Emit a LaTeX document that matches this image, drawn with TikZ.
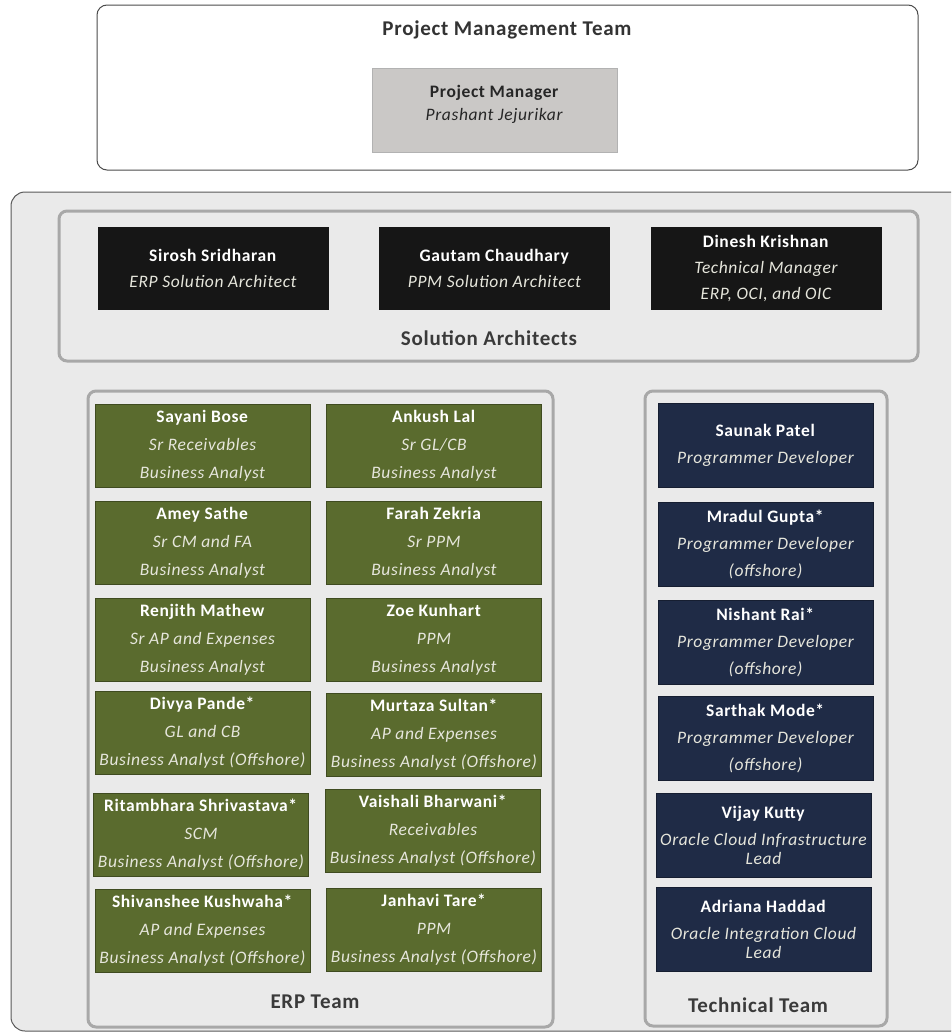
\documentclass[tikz,border=0pt]{standalone}
\usepackage{fontspec}
\setmainfont{Carlito}[LetterSpace=3.5]
\definecolor{olive}{HTML}{5A6B2E}
\definecolor{navy}{HTML}{1F2B46}
\definecolor{blk}{HTML}{161616}
\definecolor{pmgray}{HTML}{CAC8C6}
\definecolor{panel}{HTML}{EAEAEA}
\definecolor{rim}{HTML}{A8A8A8}
\definecolor{ttl}{HTML}{3A3A3A}
\definecolor{soft}{HTML}{E6E6DC}
\tikzset{
  pbox/.style={rectangle, inner sep=0pt, align=center, text=white},
  gbox/.style={pbox, fill=olive, draw=olive!70!black, line width=0.6pt, minimum width=215pt, minimum height=83pt, font=\fontsize{17.5}{28}\selectfont},
  tbox/.style={pbox, fill=navy, draw=navy!70!black, line width=0.6pt, minimum width=215pt, minimum height=84pt, font=\fontsize{17.5}{27}\selectfont},
  abox/.style={pbox, fill=blk, minimum width=231pt, minimum height=83pt, font=\fontsize{17.5}{26}\selectfont},
  grp/.style={draw=rim, line width=3pt, rounded corners=8pt, fill=panel},
  ttlstyle/.style={text=ttl, font=\fontsize{21}{23}\selectfont\bfseries, inner sep=0pt},
}
\newcommand{\nm}[1]{\textbf{#1}}
\newcommand{\rl}[1]{{\color{soft}\itshape #1}}
\begin{document}
\begin{tikzpicture}[x=1pt,y=-1pt]
\useasboundingbox (0,0) rectangle (951,1036);
\fill[white] (0,0) rectangle (951,1036);
\begin{scope}
\clip (0,0) rectangle (951,1036);
% top project management team
\draw[draw=black!70, line width=1pt, fill=white, rounded corners=10pt] (97,5) rectangle (918,170);
\node[ttlstyle, text=black!80] (pmt) at (507,30) {Project Management Team};
\node[pbox, fill=pmgray, draw=black!30, minimum width=245pt, minimum height=84pt] (pm) at (494.5,110) {};
\node[inner sep=0pt, align=center, text=black!85, font=\fontsize{17.5}{23}\selectfont] (pmtext) at (494.5,104) {\textbf{Project Manager}\\\textit{Prashant Jejurikar}};
% big container
\draw[draw=black!65, line width=1pt, fill=panel, rounded corners=14pt] (11,192) rectangle (965,1031);
\end{scope}
% solution architects
\draw[grp] (59,211) rectangle (918,361);
\node[abox] (sa1) at (213,268) {\nm{Sirosh Sridharan}\\\rl{ERP Solution Architect}};
\node[abox] (sa2) at (494.5,268) {\nm{Gautam Chaudhary}\\\rl{PPM Solution Architect}};
\node[abox] (sa3) at (766,268) {\nm{Dinesh Krishnan}\\\rl{Technical Manager}\\\rl{ERP, OCI, and OIC}};
\node[ttlstyle] (sal) at (489,338) {Solution Architects};
% ERP team
\draw[grp] (88,391) rectangle (553,1027);
\node[gbox] (e1) at (202.5,445.5) {\nm{Sayani Bose}\\\rl{Sr Receivables}\\\rl{Business Analyst}};
\node[gbox] (e2) at (434,445.5) {\nm{Ankush Lal}\\\rl{Sr GL/CB}\\\rl{Business Analyst}};
\node[gbox] (e3) at (202.5,542.5) {\nm{Amey Sathe}\\\rl{Sr CM and FA}\\\rl{Business Analyst}};
\node[gbox] (e4) at (434,542.5) {\nm{Farah Zekria}\\\rl{Sr PPM}\\\rl{Business Analyst}};
\node[gbox] (e5) at (202.5,640) {\nm{Renjith Mathew}\\\rl{Sr AP and Expenses}\\\rl{Business Analyst}};
\node[gbox] (e6) at (434,640) {\nm{Zoe Kunhart}\\\rl{PPM}\\\rl{Business Analyst}};
\node[gbox] (e7) at (202.5,733) {\nm{Divya Pande*}\\\rl{GL and CB}\\\rl{Business Analyst (Offshore)}};
\node[gbox] (e8) at (434,735) {\nm{Murtaza Sultan*}\\\rl{AP and Expenses}\\\rl{Business Analyst (Offshore)}};
\node[gbox] (e9) at (201,835) {\nm{Ritambhara Shrivastava*}\\\rl{SCM}\\\rl{Business Analyst (Offshore)}};
\node[gbox] (e10) at (433,830.5) {\nm{Vaishali Bharwani*}\\\rl{Receivables}\\\rl{Business Analyst (Offshore)}};
\node[gbox] (e11) at (202.5,931) {\nm{Shivanshee Kushwaha*}\\\rl{AP and Expenses}\\\rl{Business Analyst (Offshore)}};
\node[gbox] (e12) at (434,930) {\nm{Janhavi Tare*}\\\rl{PPM}\\\rl{Business Analyst (Offshore)}};
\node[ttlstyle] (erpl) at (315,1002) {ERP Team};
% technical team
\draw[grp] (645,391) rectangle (887,1026);
\node[tbox] (t1) at (765.5,445.5) {\nm{Saunak Patel}\\\rl{Programmer Developer}};
\node[tbox] (t2) at (765.5,544.5) {\nm{Mradul Gupta*}\\\rl{Programmer Developer}\\\rl{(offshore)}};
\node[tbox] (t3) at (765.5,642.5) {\nm{Nishant Rai*}\\\rl{Programmer Developer}\\\rl{(offshore)}};
\node[tbox] (t4) at (765.5,738.5) {\nm{Sarthak Mode*}\\\rl{Programmer Developer}\\\rl{(offshore)}};
\node[tbox] (t5) at (763.5,835.5) {\nm{Vijay Kutty}\\\rl{Oracle Cloud Infrastructure}\\[-8pt]\rl{Lead}};
\node[tbox] (t6) at (763.5,929.5) {\nm{Adriana Haddad}\\\rl{Oracle Integration Cloud}\\[-8pt]\rl{Lead}};
\node[ttlstyle] (tecl) at (758,1005) {Technical Team};
\end{tikzpicture}
\end{document}
